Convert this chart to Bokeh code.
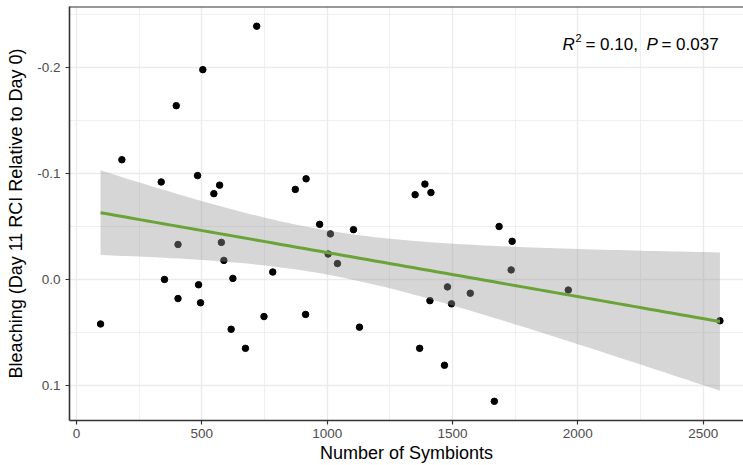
import numpy as np
from bokeh.plotting import figure
from bokeh.models import Range1d, FixedTicker, NumeralTickFormatter, Label, Span
from bokeh.embed import file_html
from bokeh.resources import INLINE

# Symbiont counts and bleaching response (Day 11 RCI relative to Day 0)
symbionts = [96, 181, 338, 351, 398, 405, 405, 483, 487, 495, 504, 548, 571,
             578, 588, 617, 624, 674, 719, 748, 783, 873, 914, 916, 970,
             1004, 1013, 1041, 1105, 1129, 1351, 1369, 1390, 1410, 1414,
             1468, 1480, 1496, 1571, 1667, 1686, 1734, 1738, 1962, 2567]
bleaching = [0.042, -0.113, -0.092, 0.000, -0.164, -0.033, 0.018, -0.098,
             0.005, 0.022, -0.198, -0.081, -0.089, -0.035, -0.018, 0.047,
             -0.001, 0.065, -0.239, 0.035, -0.007, -0.085, 0.033, -0.095,
             -0.052, -0.024, -0.043, -0.015, -0.047, 0.045, -0.080, 0.065,
             -0.090, 0.020, -0.082, 0.081, 0.007, 0.023, 0.013, 0.115,
             -0.050, -0.009, -0.036, 0.010, 0.039]

x_ticks = [0, 500, 1000, 1500, 2000, 2500]
x_minor = [250, 750, 1250, 1750, 2250]
y_ticks = [-0.2, -0.1, 0.0, 0.1]
y_minor = [-0.25, -0.15, -0.05, 0.05]

stat_text = ["R", "2", "= 0.10,", "P", "= 0.037"]

# Linear fit with a 95% confidence band
x = np.array(symbionts, dtype=float)
y = np.array(bleaching, dtype=float)
n = len(x)
slope, intercept = np.polyfit(x, y, 1)
resid = y - (intercept + slope * x)
s = np.sqrt(np.sum(resid ** 2) / (n - 2))
sxx = np.sum((x - x.mean()) ** 2)
t_crit = 2.0167  # t(0.975, df = 43)
xs = np.linspace(x.min(), x.max(), 80)
fit = intercept + slope * xs
se = s * np.sqrt(1.0 / n + (xs - x.mean()) ** 2 / sxx)
lower = fit - t_crit * se
upper = fit + t_crit * se

FONT = "Liberation Sans"

p = figure(width=743, height=465, output_backend="svg", toolbar_location=None,
           x_range=Range1d(-27.9, 2661), y_range=Range1d(0.1331, -0.2576),
           min_border_left=69, min_border_right=0, min_border_top=6,
           min_border_bottom=43)
p.background_fill_color = "white"
p.border_fill_color = "white"
p.outline_line_color = None

# grid
p.xaxis.ticker = FixedTicker(ticks=x_ticks, minor_ticks=x_minor)
p.yaxis.ticker = FixedTicker(ticks=y_ticks, minor_ticks=y_minor)
for g in (p.xgrid[0], p.ygrid[0]):
    g.grid_line_color = "#ebebeb"
    g.grid_line_width = 1.4
    g.minor_grid_line_color = "#ebebeb"
    g.minor_grid_line_width = 0.8

# axes
p.yaxis.formatter = NumeralTickFormatter(format="0.0")
for ax in (p.xaxis[0], p.yaxis[0]):
    ax.axis_line_color = "#333333"
    ax.axis_line_width = 1.6
    ax.major_tick_line_color = "#333333"
    ax.major_tick_line_width = 1.2
    ax.major_tick_out = 4
    ax.major_tick_in = 0
    ax.minor_tick_line_color = None
    ax.major_label_text_font = FONT
    ax.major_label_text_font_size = "13.5px"
    ax.major_label_text_color = "#4d4d4d"
    ax.axis_label_text_font = FONT
    ax.axis_label_text_font_size = "18px"
    ax.axis_label_text_font_style = "normal"
    ax.axis_label_text_color = "black"
p.xaxis.axis_label = "Number of Symbionts"
p.yaxis.axis_label = "Bleaching (Day 11 RCI Relative to Day 0)"
p.xaxis.major_label_standoff = 4
p.xaxis.axis_label_standoff = 2
p.yaxis.major_label_standoff = 5
p.yaxis.axis_label_standoff = 8

# top border of the panel
p.add_layout(Span(location=-0.2576, dimension="width", line_color="#333333",
                  line_width=2))

# points, then the confidence band and fitted line on top
p.scatter(symbionts, bleaching, size=6.5, color="black")
p.varea(x=xs, y1=lower, y2=upper, fill_color="#999999", fill_alpha=0.4)
p.line(xs, fit, line_color="#6aa338", line_width=3)

# statistics annotation
def px_x(px):
    return (px - 76) / 0.25067

def px_y(py):
    return (py - 280.3) / 1064.7

pieces = [
    (stat_text[0], 562, 44.3, "17px", "italic"),
    (stat_text[1], 575, 38.0, "11px", "normal"),
    (stat_text[2], 585, 44.3, "17px", "normal"),
    (stat_text[3], 646, 44.3, "17px", "italic"),
    (stat_text[4], 661, 44.3, "17px", "normal"),
]
for txt, xp, yp, fs, style in pieces:
    p.add_layout(Label(x=px_x(xp), y=px_y(yp), text=txt, text_font=FONT,
                       text_font_size=fs, text_font_style=style,
                       text_color="black", text_baseline="alphabetic",
                       text_align="left"))

open("out.html", "w").write(file_html(p, INLINE))
